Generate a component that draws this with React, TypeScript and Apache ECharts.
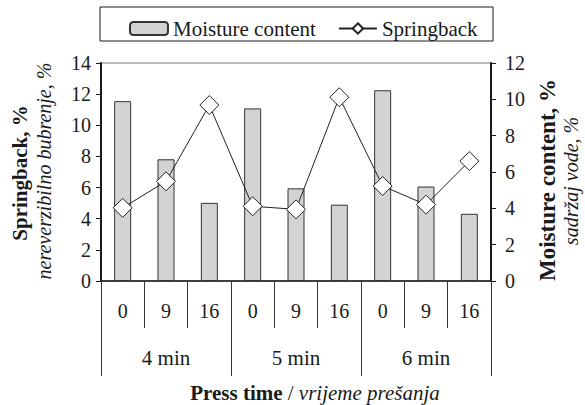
import React, { useEffect, useRef } from "react";
import * as echarts from "echarts";

const pressTimeLabels = ["0", "9", "16", "0", "9", "16", "0", "9", "16"];
const groupLabels = ["4 min", "5 min", "6 min"];
const moistureContent = [9.9, 6.7, 4.3, 9.5, 5.1, 4.2, 10.5, 5.2, 3.7];
const springback = [4.7, 6.4, 11.3, 4.8, 4.6, 11.8, 6.1, 4.9, 7.7];
const leftTicks = { min: 0, max: 14, interval: 2 };
const rightTicks = { min: 0, max: 12, interval: 2 };

const FONT = "Liberation Serif, serif";
const INK = "#1a1a1a";

export default function App() {
  const ref = useRef<HTMLDivElement>(null);
  useEffect(() => {
    if (!ref.current) return;
    const chart = echarts.init(ref.current, null, { renderer: "svg" });
    chart.setOption({
      animation: false,
      backgroundColor: "#ffffff",
      textStyle: { fontFamily: FONT, color: INK },
      grid: {
        left: 101,
        right: 94,
        top: 63,
        bottom: 124,
        show: true,
        borderColor: "#777",
        borderWidth: 1,
      },
      legend: {
        left: 124,
        top: 13,
        itemGap: 22,
        itemWidth: 38,
        itemHeight: 13,
        textStyle: { fontFamily: FONT, fontSize: 21, color: INK },
        data: ["Moisture content", "Springback"],
      },
      xAxis: [
        {
          type: "category",
          data: pressTimeLabels,
          position: "bottom",
          boundaryGap: true,
          axisLine: { lineStyle: { color: INK, width: 1.5 } },
          axisTick: { show: true, interval: 0, length: 47, lineStyle: { color: "#333", width: 1 } },
          axisLabel: { interval: 0, margin: 20, fontSize: 20, fontFamily: FONT, color: INK },
          splitLine: { show: false },
        },
        {
          type: "category",
          data: groupLabels,
          position: "bottom",
          boundaryGap: true,
          axisLine: { show: false },
          axisTick: { show: true, interval: 0, length: 95, lineStyle: { color: "#333", width: 1 } },
          axisLabel: { interval: 0, margin: 66, fontSize: 21, fontFamily: FONT, color: INK },
          splitLine: { show: false },
        },
      ],
      yAxis: [
        {
          type: "value",
          position: "left",
          min: leftTicks.min,
          max: leftTicks.max,
          interval: leftTicks.interval,
          axisLine: { show: true, lineStyle: { color: INK, width: 2 } },
          axisTick: { show: true, length: 5, lineStyle: { color: INK } },
          axisLabel: { margin: 10, fontSize: 20, fontFamily: FONT, color: INK },
          splitLine: { show: false },
        },
        {
          type: "value",
          position: "right",
          min: rightTicks.min,
          max: rightTicks.max,
          interval: rightTicks.interval,
          axisLine: { show: true, lineStyle: { color: INK, width: 2 } },
          axisTick: { show: true, length: 5, lineStyle: { color: INK } },
          axisLabel: { margin: 14, fontSize: 20, fontFamily: FONT, color: INK },
          splitLine: { show: false },
        },
      ],
      series: [
        {
          name: "Moisture content",
          type: "bar",
          xAxisIndex: 0,
          yAxisIndex: 1,
          data: moistureContent,
          barWidth: 17,
          itemStyle: { color: "#d3d3d3", borderColor: "#333", borderWidth: 1 },
        },
        {
          name: "Springback",
          type: "line",
          xAxisIndex: 0,
          yAxisIndex: 0,
          data: springback,
          symbol: "diamond",
          symbolSize: 19,
          lineStyle: { color: "#222", width: 1 },
          itemStyle: { color: "#ffffff", borderColor: "#222", borderWidth: 1 },
          z: 3,
        },
      ],
      graphic: [
        {
          type: "rect",
          shape: { x: 100, y: 7, width: 393, height: 34 },
          style: { fill: "none", stroke: INK, lineWidth: 1 },
          silent: true,
        },
        {
          type: "text",
          x: 20,
          y: 173,
          rotation: Math.PI / 2,
          style: {
            text: "Springback, %",
            fontFamily: FONT,
            fontSize: 21,
            fontWeight: "bold",
            fill: INK,
            align: "center",
            verticalAlign: "middle",
          },
        },
        {
          type: "text",
          x: 44,
          y: 171,
          rotation: Math.PI / 2,
          style: {
            text: "nereverzibilno bubrenje, %",
            fontFamily: FONT,
            fontSize: 20,
            fontStyle: "italic",
            fill: INK,
            align: "center",
            verticalAlign: "middle",
          },
        },
        {
          type: "text",
          x: 547,
          y: 180,
          rotation: Math.PI / 2,
          style: {
            text: "Moisture content, %",
            fontFamily: FONT,
            fontSize: 23,
            fontWeight: "bold",
            fill: INK,
            align: "center",
            verticalAlign: "middle",
          },
        },
        {
          type: "text",
          x: 571,
          y: 181,
          rotation: Math.PI / 2,
          style: {
            text: "sadržaj vode, %",
            fontFamily: FONT,
            fontSize: 20,
            fontStyle: "italic",
            fill: INK,
            align: "center",
            verticalAlign: "middle",
          },
        },
        {
          type: "text",
          x: 315,
          y: 393,
          style: {
            text: "{b|Press time} / {i|vrijeme prešanja}",
            fontFamily: FONT,
            fontSize: 21,
            fill: INK,
            align: "center",
            verticalAlign: "middle",
            rich: {
              b: { fontFamily: FONT, fontSize: 21, fontWeight: "bold", fill: INK },
              i: { fontFamily: FONT, fontSize: 21, fontStyle: "italic", fill: INK },
            },
          },
        },
      ],
    });
    return () => chart.dispose();
  }, []);
  return (
    <div
      ref={ref}
      style={{ position: "absolute", left: 0, top: 0, width: 585, height: 405 }}
    />
  );
}
